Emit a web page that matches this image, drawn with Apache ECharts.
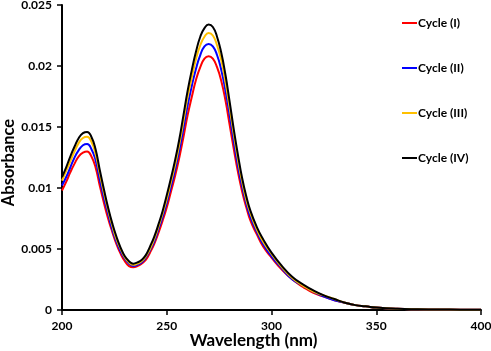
<!DOCTYPE html>
<html>
<head>
<meta charset="utf-8">
<script src="https://cdn.jsdelivr.net/npm/echarts@6/dist/echarts.min.js"></script>
<style>
  html, body { margin: 0; padding: 0; background: #fff; }
  #chart { width: 491px; height: 351px; }
</style>
</head>
<body>
<div id="chart"></div>
<script>
const wavelengths = [200, 202, 204, 206, 208, 210, 212, 214, 216, 218, 220, 222, 224, 226, 228, 230, 232, 234, 236, 238, 240, 242, 244, 246, 248, 250, 252, 254, 256, 258, 260, 262, 264, 266, 268, 270, 272, 274, 276, 278, 280, 282, 284, 286, 288, 290, 293, 296, 300, 305, 310, 315, 320, 325, 330, 335, 340, 345, 350, 360, 370, 380, 390, 400]

const cycle1 = [0.0098, 0.0105, 0.0113, 0.0120, 0.0126, 0.0129, 0.0130, 0.0126, 0.0117, 0.0102, 0.0088, 0.0075, 0.0064, 0.0054, 0.0046, 0.0040, 0.0036, 0.0035, 0.0036, 0.0038, 0.0041, 0.0047, 0.0054, 0.0063, 0.0073, 0.0084, 0.0097, 0.0110, 0.0125, 0.0142, 0.0160, 0.0175, 0.0189, 0.0199, 0.0206, 0.0208, 0.0206, 0.0199, 0.0188, 0.0172, 0.0152, 0.0132, 0.0113, 0.0097, 0.0084, 0.0073, 0.0062, 0.0052, 0.0043, 0.0033, 0.0025, 0.0019, 0.0014, 0.0011, 0.0008, 0.0006, 0.0004, 0.0003, 0.0002, 0.0001, 0.00006, 0.00004, 0.00003, 0.00002]
const cycle2 = [0.0102, 0.0109, 0.0117, 0.0125, 0.0131, 0.0135, 0.0136, 0.0132, 0.0123, 0.0107, 0.0092, 0.0079, 0.0066, 0.0056, 0.0048, 0.0042, 0.0038, 0.0036, 0.0037, 0.0039, 0.0043, 0.0049, 0.0056, 0.0066, 0.0076, 0.0088, 0.0101, 0.0115, 0.0131, 0.0149, 0.0168, 0.0184, 0.0198, 0.0209, 0.0216, 0.0218, 0.0216, 0.0209, 0.0197, 0.0180, 0.0160, 0.0138, 0.0118, 0.0101, 0.0087, 0.0076, 0.0064, 0.0054, 0.0044, 0.0034, 0.0025, 0.0020, 0.0015, 0.0011, 0.0008, 0.0006, 0.0004, 0.0003, 0.0002, 0.0001, 0.00006, 0.00004, 0.00003, 0.00002]
const cycle3 = [0.0106, 0.0114, 0.0122, 0.0130, 0.0137, 0.0141, 0.0142, 0.0138, 0.0128, 0.0112, 0.0096, 0.0082, 0.0069, 0.0058, 0.0050, 0.0043, 0.0039, 0.0037, 0.0038, 0.0040, 0.0044, 0.0050, 0.0058, 0.0068, 0.0079, 0.0091, 0.0105, 0.0119, 0.0136, 0.0155, 0.0175, 0.0191, 0.0206, 0.0217, 0.0224, 0.0227, 0.0225, 0.0217, 0.0205, 0.0187, 0.0166, 0.0144, 0.0123, 0.0105, 0.0090, 0.0079, 0.0066, 0.0056, 0.0046, 0.0035, 0.0026, 0.0020, 0.0015, 0.0012, 0.0009, 0.0006, 0.0004, 0.0003, 0.0002, 0.0001, 0.00006, 0.00004, 0.00003, 0.00002]
const cycle4 = [0.0109, 0.0117, 0.0126, 0.0134, 0.0141, 0.0145, 0.0146, 0.0142, 0.0132, 0.0115, 0.0099, 0.0084, 0.0071, 0.0060, 0.0051, 0.0044, 0.0040, 0.0038, 0.0039, 0.0041, 0.0045, 0.0052, 0.0060, 0.0070, 0.0081, 0.0094, 0.0108, 0.0123, 0.0140, 0.0160, 0.0180, 0.0197, 0.0212, 0.0224, 0.0231, 0.0234, 0.0232, 0.0224, 0.0211, 0.0193, 0.0171, 0.0148, 0.0127, 0.0108, 0.0093, 0.0081, 0.0068, 0.0058, 0.0047, 0.0036, 0.0027, 0.0021, 0.0016, 0.0012, 0.0009, 0.0006, 0.0004, 0.0003, 0.0002, 0.0001, 0.00006, 0.00004, 0.00003, 0.00002]

const seriesNames = ['Cycle (I)', 'Cycle (II)', 'Cycle (III)', 'Cycle (IV)']
const seriesColors = ['#ff0000', '#0000ff', '#ffc000', '#000000']
const seriesData = [cycle1, cycle2, cycle3, cycle4]

const font = 'Lato, "Open Sans", sans-serif'

const chart = echarts.init(document.getElementById('chart'), null, { renderer: 'canvas' })

const makeSeries = (name, i) => ({
  name: name,
  type: 'line',
  smooth: true,
  showSymbol: false,
  data: wavelengths.map((w, k) => [w, seriesData[i][k]]),
  lineStyle: { color: seriesColors[i], width: 2 },
  itemStyle: { color: seriesColors[i] },
  z: 2 + i
})

chart.setOption({
  animation: false,
  backgroundColor: '#fff',
  grid: { left: 62, right: 10, top: 5, bottom: 41, containLabel: false, outerBoundsMode: 'none' },
  legend: {
    data: seriesNames,
    orient: 'vertical',
    left: 402,
    top: 16,
    padding: 0,
    icon: 'rect',
    itemWidth: 15,
    itemHeight: 2,
    itemGap: 31,
    textStyle: { fontFamily: font, fontWeight: 'bold', fontSize: 12, color: '#000', lineHeight: 14, padding: [0, 0, 0, -4] }
  },
  xAxis: {
    type: 'value',
    min: 200,
    max: 400,
    interval: 50,
    name: 'Wavelength (nm)',
    nameLocation: 'middle',
    nameGap: 22,
    nameMoveOverlap: false,
    nameTextStyle: { fontFamily: font, fontWeight: 'bold', fontSize: 17, color: '#000', padding: [0, 36, 0, 0] },
    axisLine: { lineStyle: { color: '#000', width: 2 } },
    axisTick: { show: true, length: 5, lineStyle: { color: '#000', width: 1.5 } },
    axisLabel: { fontFamily: font, fontWeight: 'bold', fontSize: 12, color: '#000', margin: 10 },
    splitLine: { show: false }
  },
  yAxis: {
    type: 'value',
    min: 0,
    max: 0.025,
    interval: 0.005,
    name: 'Absorbance',
    nameLocation: 'middle',
    nameGap: 45,
    nameMoveOverlap: false,
    nameTextStyle: { fontFamily: font, fontWeight: 'bold', fontSize: 16.5, color: '#000', padding: [0, 10, 0, 0] },
    axisLine: { show: true, lineStyle: { color: '#000', width: 2 } },
    axisTick: { show: true, length: 5, lineStyle: { color: '#000', width: 1.5 } },
    axisLabel: { fontFamily: font, fontWeight: 'bold', fontSize: 12, color: '#000', margin: 10 },
    splitLine: { show: false }
  },
  series: seriesNames.map(makeSeries)
})
</script>
</body>
</html>
